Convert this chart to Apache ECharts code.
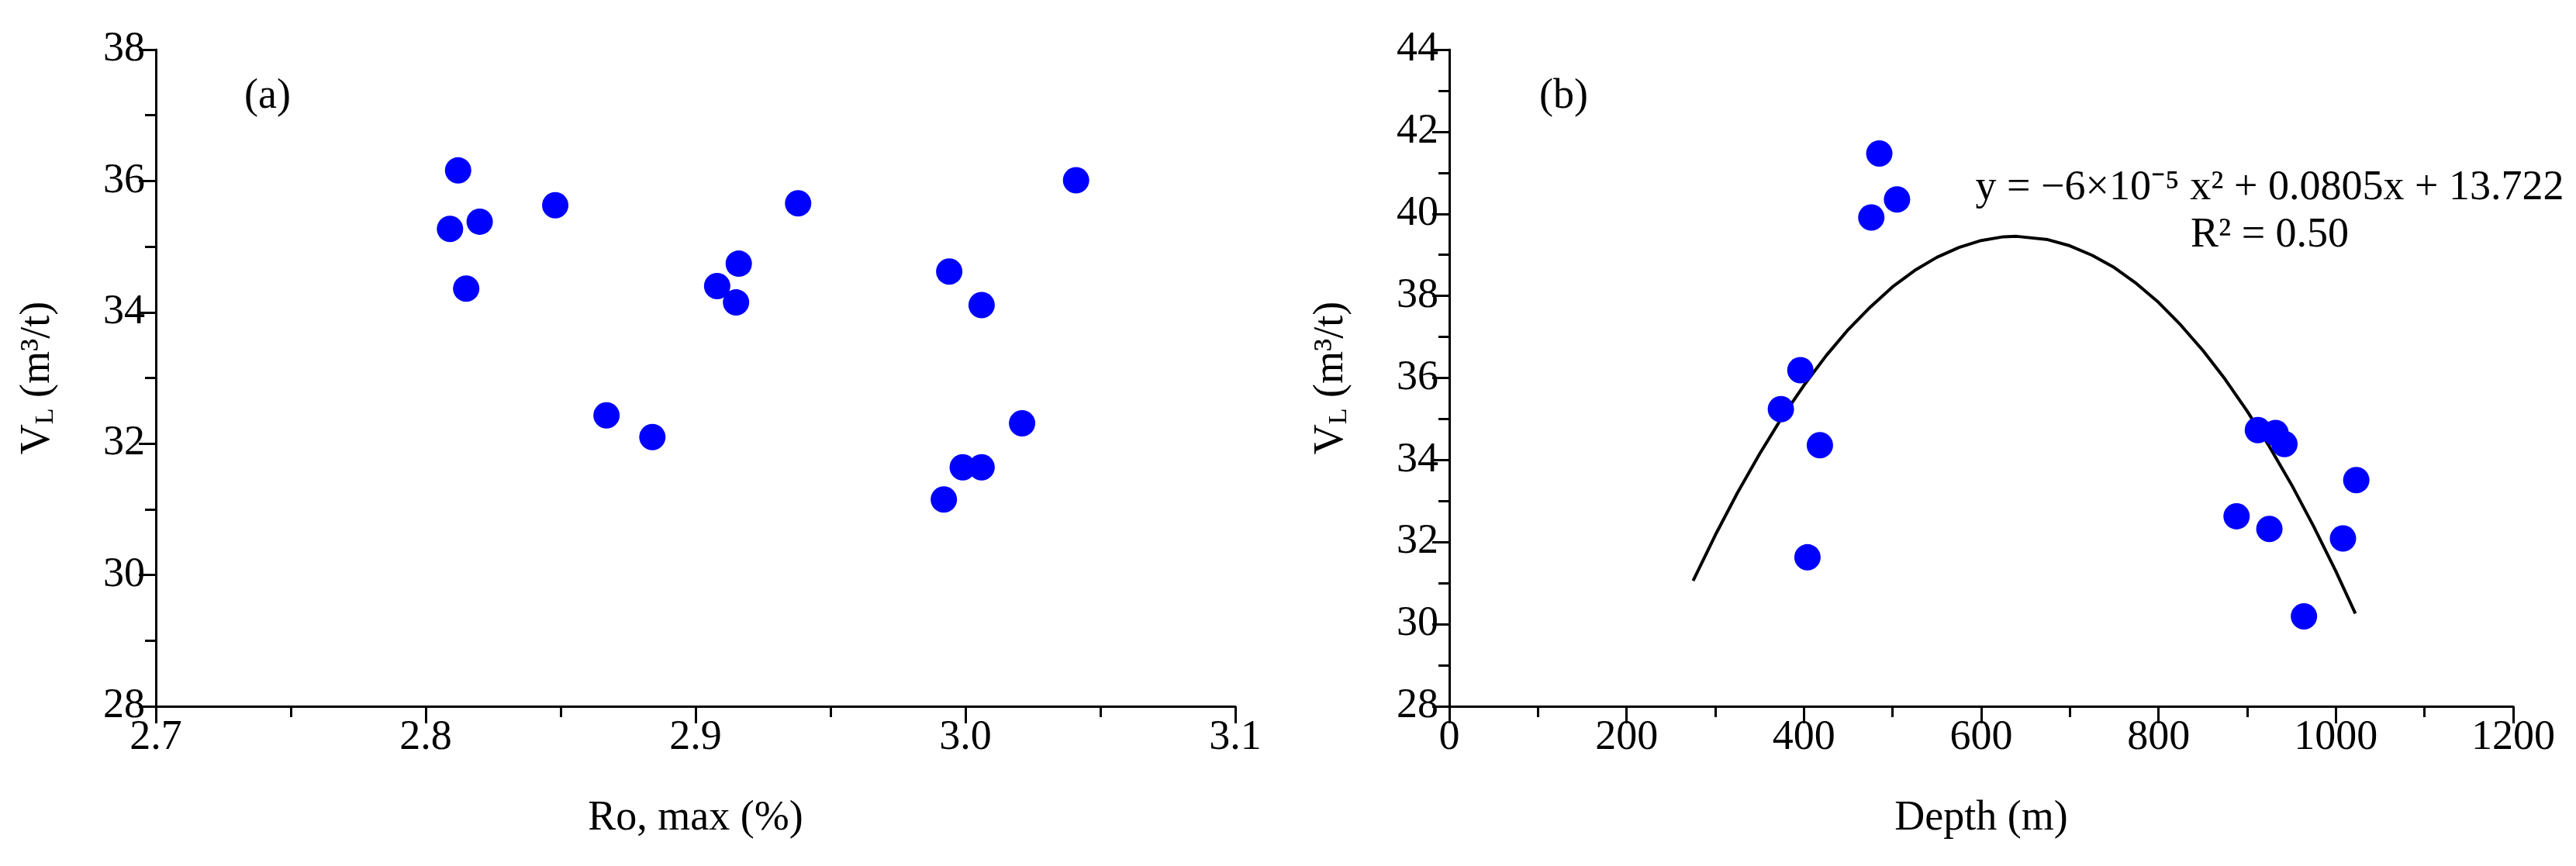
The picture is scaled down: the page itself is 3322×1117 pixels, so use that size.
<!DOCTYPE html>
<html><head><meta charset="utf-8">
<script src="https://cdn.jsdelivr.net/npm/echarts@6/dist/echarts.min.js"></script>
<style>html,body{margin:0;padding:0;background:#fff}#c{width:3322px;height:1117px}</style>
</head><body><div id="c"></div>
<script>
const roX = [2.809,2.812,2.815,2.820,2.848,2.867,2.884,2.908,2.916,2.915,2.938,2.992,2.994,2.999,3.006,3.006,3.021,3.041];
const roY = [35.27,36.16,34.36,35.38,35.63,32.43,32.10,34.40,34.74,34.15,35.66,31.15,34.62,31.64,31.64,34.11,32.31,36.01];
const depX = [374,396,418,404,476,485,505,888,912,932,942,925,964,1008,1023];
const depY = [35.24,36.19,34.36,31.63,39.91,41.47,40.35,32.63,34.73,34.66,34.39,32.32,30.19,32.09,33.51];
const fitX = [275,300,325,350,375,400,425,450,475,500,525,550,575,600,625,640,675,700,725,750,775,800,825,850,875,900,925,950,975,1000,1022];
const fitY = [31.06,32.17,33.20,34.15,35.03,35.82,36.54,37.18,37.73,38.22,38.62,38.94,39.18,39.35,39.44,39.45,39.37,39.22,38.99,38.69,38.30,37.84,37.29,36.67,35.97,35.19,34.33,33.40,32.38,31.29,30.26];

const font = 'Liberation Serif';
const fs = 54;
const axisLine = {show:true, lineStyle:{color:'#000', width:3}};
const tick = {show:true, inside:false, length:22, lineStyle:{color:'#000', width:3}};
const minor = {show:true, splitNumber:2, length:14, lineStyle:{color:'#000', width:3}};
const lbl = {color:'#000', fontFamily:font, fontSize:fs, margin:14};
const nameStyle = {color:'#000', fontFamily:font, fontSize:fs};
const yName = 'V{s|L} (m³/t)';
const yNameStyle = {color:'#000', fontFamily:font, fontSize:fs, rich:{s:{fontFamily:font, fontSize:34, verticalAlign:'bottom', padding:[20,0,0,0]}}};
function pair(a,b){return a.map((v,i)=>[v,b[i]]);}
const chart = echarts.init(document.getElementById('c'));
chart.setOption({
  animation:false,
  grid:[{left:201,right:1729,top:64,bottom:206},{left:1869,right:81,top:64,bottom:206}],
  xAxis:[
    {gridIndex:0,type:'value',min:2.7,max:3.1,interval:0.1,name:'Ro, max (%)',nameLocation:'middle',nameGap:118,nameTextStyle:nameStyle,
     axisLine,axisTick:tick,minorTick:minor,splitLine:{show:false},axisLabel:{...lbl,formatter:v=>v.toFixed(1)}},
    {gridIndex:1,type:'value',min:0,max:1200,interval:200,name:'Depth (m)',nameLocation:'middle',nameGap:118,nameTextStyle:nameStyle,
     axisLine,axisTick:tick,minorTick:minor,splitLine:{show:false},axisLabel:{...lbl,formatter:v=>String(v)}}
  ],
  yAxis:[
    {gridIndex:0,type:'value',min:28,max:38,interval:2,name:yName,nameLocation:'middle',nameGap:125,nameTextStyle:yNameStyle,
     axisLine,axisTick:tick,minorTick:minor,splitLine:{show:false},axisLabel:lbl},
    {gridIndex:1,type:'value',min:28,max:44,interval:2,name:yName,nameLocation:'middle',nameGap:125,nameTextStyle:yNameStyle,
     axisLine,axisTick:tick,minorTick:minor,splitLine:{show:false},axisLabel:lbl}
  ],
  series:[
    {type:'scatter',xAxisIndex:0,yAxisIndex:0,data:pair(roX,roY),symbolSize:34,itemStyle:{color:'#0000ff',opacity:1}},
    {type:'line',xAxisIndex:1,yAxisIndex:1,data:pair(fitX,fitY),smooth:false,showSymbol:false,lineStyle:{color:'#000',width:4}},
    {type:'scatter',xAxisIndex:1,yAxisIndex:1,data:pair(depX,depY),symbolSize:34,itemStyle:{color:'#0000ff',opacity:1},z:3}
  ],
  graphic:[
    {type:'text',left:315,top:98,style:{text:'(a)',font:fs+'px '+font,fill:'#000'}},
    {type:'text',left:1985,top:98,style:{text:'(b)',font:fs+'px '+font,fill:'#000'}},
    {type:'text',x:2927,y:243,style:{text:'y = −6×10⁻⁵ x² + 0.0805x + 13.722',font:fs+'px '+font,fill:'#000',align:'center',verticalAlign:'middle'}},
    {type:'text',x:2927,y:304,style:{text:'R² = 0.50',font:fs+'px '+font,fill:'#000',align:'center',verticalAlign:'middle'}}
  ]
});
</script></body></html>
